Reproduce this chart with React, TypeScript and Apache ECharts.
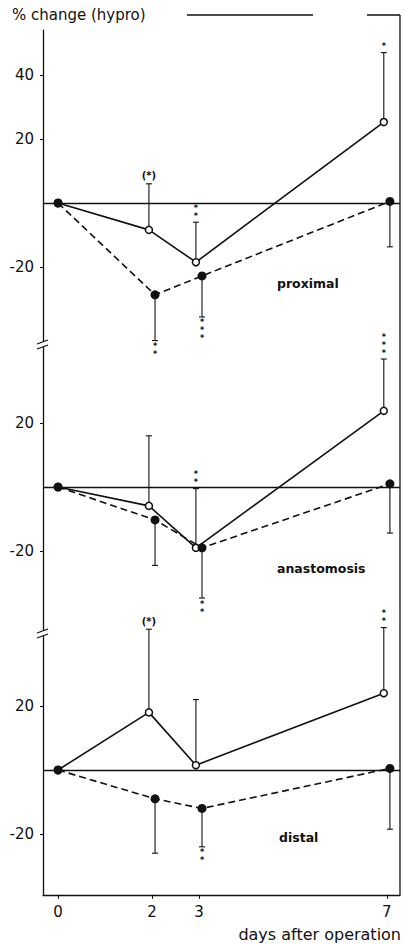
import { useEffect, useRef } from "react";
import * as echarts from "echarts";

// days after operation
const days = [0, 2, 3, 7];
const dayTicks = [0, 2, 3, 7];

// proximal segment: % change, error-bar ends, significance marks
const proxOpen = [0, -8.4, -18.5, 25.3];
const proxOpenErr = [null, 6, -6, 47];
const proxOpenSig = ["", "(*)", "**", "*"];
const proxFilled = [0, -28.7, -22.8, 0.5];
const proxFilledErr = [null, -43, -35.6, -13.7];
const proxFilledSig = ["", "**", "***", ""];
const proxTicks = [40, 20, -20];

// anastomosis
const anaOpen = [0, -5.9, -19, 23.8];
const anaOpenErr = [null, 16, -0.5, 40];
const anaOpenSig = ["", "", "**", "***"];
const anaFilled = [0, -10.3, -19, 1];
const anaFilledErr = [null, -24.5, -34.7, -14.4];
const anaFilledSig = ["", "", "**", ""];
const anaTicks = [20, -20];

// distal segment
const distOpen = [0, 18, 1.5, 24];
const distOpenErr = [null, 44, 22, 44.5];
const distOpenSig = ["", "(*)", "", "**"];
const distFilled = [0, -9, -12, 0.5];
const distFilledErr = [null, -26, -24, -18.5];
const distFilledSig = ["", "", "**", ""];
const distTicks = [20, -20];

const INK = "#111";
const FONT = "DejaVu Sans";
const DODGE = 0.065;

type Panel = {
  name: string;
  open: number[];
  openErr: (number | null)[];
  openSig: string[];
  filled: number[];
  filledErr: (number | null)[];
  filledSig: string[];
  ticks: number[];
  min: number;
  max: number;
  top: number;
  height: number;
};

const panels: Panel[] = [
  { name: "proximal", open: proxOpen, openErr: proxOpenErr, openSig: proxOpenSig, filled: proxFilled, filledErr: proxFilledErr, filledSig: proxFilledSig, ticks: proxTicks, min: -44, max: 54, top: 30.2, height: 313.6 },
  { name: "anastomosis", open: anaOpen, openErr: anaOpenErr, openSig: anaOpenSig, filled: anaFilled, filledErr: anaFilledErr, filledSig: anaFilledSig, ticks: anaTicks, min: -45, max: 45, top: 343, height: 288 },
  { name: "distal", open: distOpen, openErr: distOpenErr, openSig: distOpenSig, filled: distFilled, filledErr: distFilledErr, filledSig: distFilledSig, ticks: distTicks, min: -39, max: 43, top: 632.4, height: 262.4 },
];

const shift = (d: number, dir: number) => (d === 0 ? d : d + dir * DODGE);

function errorBars(values: number[], ends: (number | null)[], sig: string[], dir: number) {
  const data: number[][] = [];
  days.forEach((d, k) => {
    const e = ends[k];
    if (e !== null && e !== undefined) data.push([shift(d, dir), values[k], e, k]);
  });
  const renderItem = (_params: any, api: any) => {
    const x = api.value(0);
    const v = api.value(1);
    const end = api.value(2);
    const k = api.value(3);
    const p = api.coord([x, v]);
    const q = api.coord([x, end]);
    const up = q[1] < p[1];
    const mark = sig[k] || "";
    const children: any[] = [
      { type: "line", shape: { x1: p[0], y1: p[1], x2: q[0], y2: q[1] }, style: { stroke: INK, lineWidth: 1.1 } },
      { type: "line", shape: { x1: q[0] - 3, y1: q[1], x2: q[0] + 3, y2: q[1] }, style: { stroke: INK, lineWidth: 1.1 } },
    ];
    if (mark) {
      const paren = mark.includes("(");
      const text = paren ? mark : mark.split("").join("\n");
      children.push({
        type: "text",
        x: q[0],
        y: up ? q[1] - 2 : q[1] + 2,
        style: {
          text,
          fill: INK,
          fontFamily: FONT,
          fontWeight: "bold",
          fontSize: paren ? 10 : 8,
          lineHeight: paren ? 12 : 8,
          align: "center",
          verticalAlign: up ? "bottom" : "top",
        },
      });
    }
    return { type: "group", children };
  };
  return { data, renderItem };
}

export default function App() {
  const ref = useRef<HTMLDivElement>(null);

  useEffect(() => {
    if (!ref.current) return;
    const chart = echarts.init(ref.current, undefined, { renderer: "svg" });

    const grid = panels.map((p) => ({ left: 43, right: 5, top: p.top, height: p.height, outerBoundsMode: "none" }));

    const xAxis = panels.map((_p, i) => ({
      type: "value",
      gridIndex: i,
      min: -0.32,
      max: 7.28,
      show: i === panels.length - 1,
      splitLine: { show: false },
      axisLine: { show: true, onZero: false, lineStyle: { color: INK, width: 1.3 } },
      axisTick: { show: true, customValues: dayTicks, length: 4, lineStyle: { color: INK, width: 1.1 } },
      axisLabel: { customValues: dayTicks, margin: 10, color: INK, fontFamily: FONT, fontSize: 15 },
    }));

    const yAxis = panels.map((p, i) => ({
      type: "value",
      gridIndex: i,
      min: p.min,
      max: p.max,
      splitLine: { show: false },
      axisLine: { show: true, onZero: false, lineStyle: { color: INK, width: 1.3 } },
      axisTick: { show: true, customValues: p.ticks, length: 3, lineStyle: { color: INK, width: 1.1 } },
      axisLabel: { customValues: p.ticks, margin: 9, color: INK, fontFamily: FONT, fontSize: 15 },
    }));

    const series: any[] = [];
    panels.forEach((p, i) => {
      const eo = errorBars(p.open, p.openErr, p.openSig, -1);
      const ef = errorBars(p.filled, p.filledErr, p.filledSig, 1);
      [eo, ef].forEach((e) =>
        series.push({
          type: "custom",
          xAxisIndex: i,
          yAxisIndex: i,
          data: e.data,
          renderItem: e.renderItem,
          encode: { x: 0, y: [1, 2] },
          clip: false,
          z: 1,
          silent: true,
        })
      );
      series.push({
        type: "line",
        xAxisIndex: i,
        yAxisIndex: i,
        data: days.map((d, k) => [shift(d, -1), p.open[k]]),
        symbol: "circle",
        symbolSize: 7,
        showAllSymbol: true,
        itemStyle: { color: "#fff", borderColor: INK, borderWidth: 1.5 },
        lineStyle: { color: INK, width: 1.6 },
        z: 3,
        markLine: {
          silent: true,
          symbol: "none",
          label: { show: false },
          lineStyle: { color: INK, width: 1.3, type: "solid" },
          data: [{ yAxis: 0 }],
        },
      });
      series.push({
        type: "line",
        xAxisIndex: i,
        yAxisIndex: i,
        data: days.map((d, k) => [shift(d, 1), p.filled[k]]),
        symbol: "circle",
        symbolSize: 9,
        showAllSymbol: true,
        itemStyle: { color: INK, borderColor: INK, borderWidth: 0 },
        lineStyle: { color: INK, width: 1.6, type: [7, 4] },
        z: 4,
      });
    });

    const breakMark = (y: number) => [
      { type: "rect", shape: { x: 39, y: y - 3, width: 8, height: 5 }, style: { fill: "#fff" }, z: 100 },
      { type: "line", shape: { x1: 37, y1: y - 1, x2: 48, y2: y - 5 }, style: { stroke: INK, lineWidth: 1.3 }, z: 101 },
      { type: "line", shape: { x1: 37, y1: y + 4, x2: 48, y2: y }, style: { stroke: INK, lineWidth: 1.3 }, z: 101 },
    ];

    const labelY = [283, 568, 837];
    const labelX = [277, 277, 279];

    chart.setOption({
      animation: false,
      backgroundColor: "#fff",
      grid,
      xAxis,
      yAxis,
      series,
      graphic: [
        { type: "text", x: 12, y: 15, style: { text: "% change (hypro)", fill: INK, fontFamily: FONT, fontSize: 15, verticalAlign: "middle" } },
        { type: "text", x: 401, y: 934, style: { text: "days after operation", fill: INK, fontFamily: FONT, fontSize: 16, align: "right", verticalAlign: "middle" } },
        ...panels.map((p, i) => ({
          type: "text",
          x: labelX[i],
          y: labelY[i],
          style: { text: p.name, fill: INK, fontFamily: FONT, fontWeight: "bold", fontSize: 12.5, verticalAlign: "middle" },
        })),
        { type: "line", shape: { x1: 187, y1: 15, x2: 313, y2: 15 }, style: { stroke: INK, lineWidth: 1.3 } },
        { type: "line", shape: { x1: 367, y1: 15, x2: 400, y2: 15 }, style: { stroke: INK, lineWidth: 1.3 } },
        { type: "line", shape: { x1: 400, y1: 15, x2: 400, y2: 895 }, style: { stroke: INK, lineWidth: 1.3 } },
        ...breakMark(345),
        ...breakMark(634),
      ],
    });

    return () => chart.dispose();
  }, []);

  return <div ref={ref} style={{ position: "absolute", left: 0, top: 0, width: 405, height: 944 }} />;
}
